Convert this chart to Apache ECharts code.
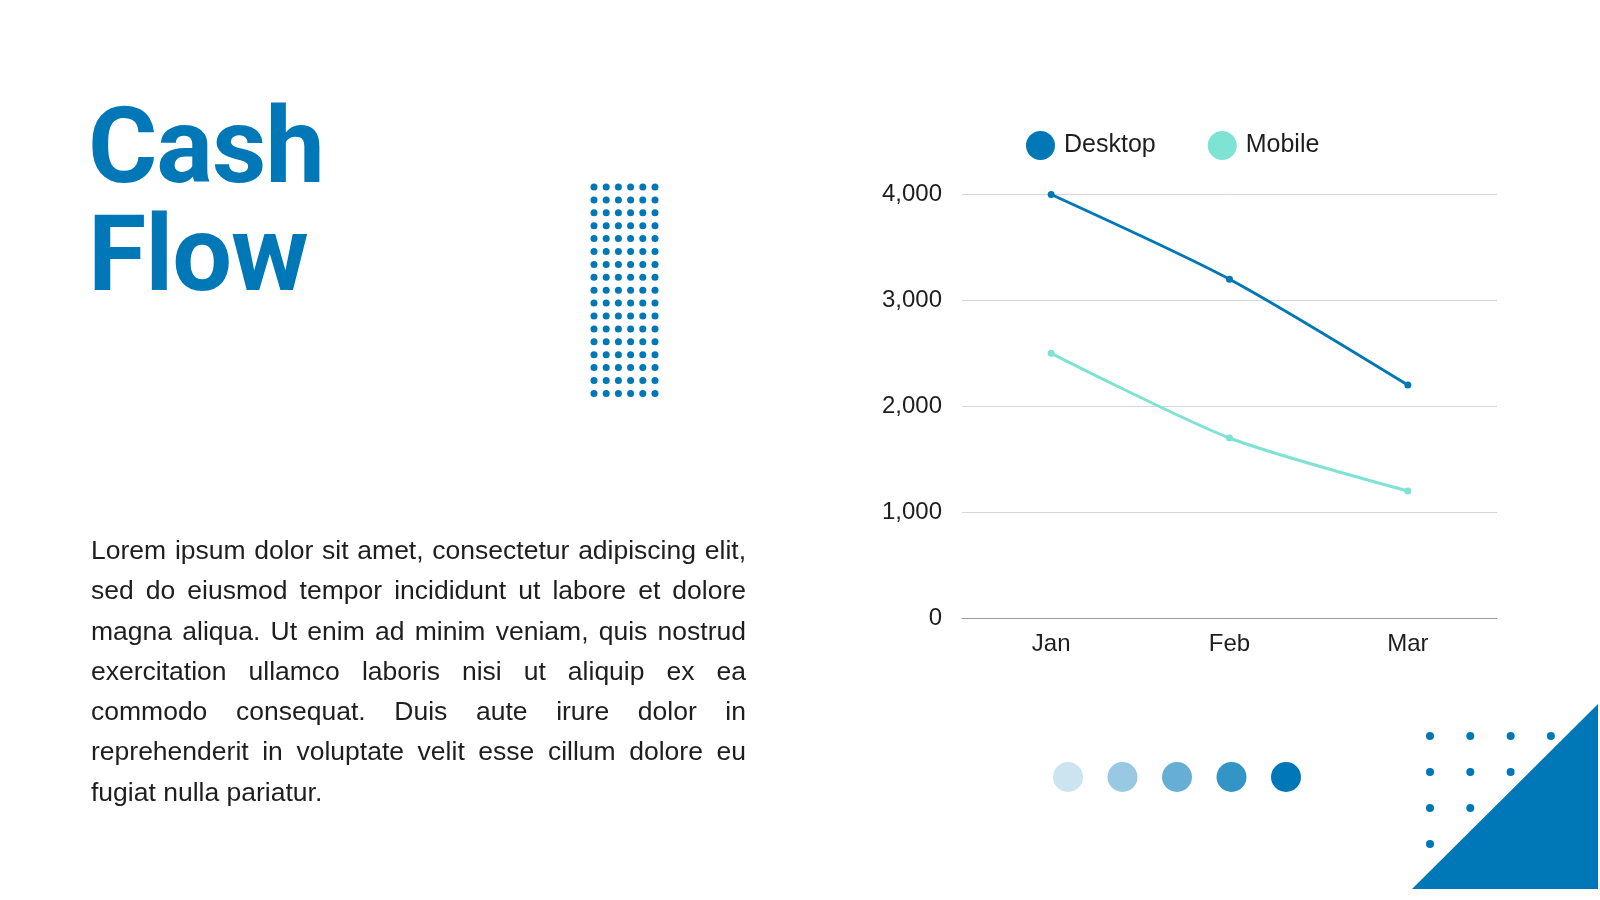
<!DOCTYPE html>
<html>
<head>
<meta charset="utf-8">
<script src="https://cdn.jsdelivr.net/npm/echarts@6/dist/echarts.min.js"></script>
<style>
  html, body { margin: 0; padding: 0; background: #fff; }
  #wrap { position: relative; width: 1600px; height: 900px; overflow: hidden; }
  #chart { position: absolute; left: 0; top: 0; width: 1600px; height: 900px; }
  .title { position: absolute; left: 88px; top: 92px; font-family: Roboto, sans-serif; font-weight: 700;
    font-size: 106px; line-height: 108px; color: #0077b6; letter-spacing: -1px; }
  .body { position: absolute; left: 91px; top: 530px; width: 655px; font-family: "Liberation Sans", Arial, sans-serif;
    font-size: 26.5px; line-height: 40.3px; color: #1e1e1e; text-align: justify; }
</style>
</head>
<body>
<div id="wrap">
  <div id="chart"></div>
  <div class="title">Cash<br>Flow</div>
  <div class="body">Lorem ipsum dolor sit amet, consectetur adipiscing elit, sed do eiusmod tempor incididunt ut labore et dolore magna aliqua. Ut enim ad minim veniam, quis nostrud exercitation ullamco laboris nisi ut aliquip ex ea commodo consequat. Duis aute irure dolor in reprehenderit in voluptate velit esse cillum dolore eu fugiat nulla pariatur.</div>
</div>
<script>
// 数据
const months = ['Jan', 'Feb', 'Mar']
const desktop = [4000, 3200, 2200]
const mobile = [2500, 1700, 1200]
const yTicks = [0, 1000, 2000, 3000, 4000]

const BLUE = '#0077b6'
const MINT = '#7fe3d4'
const shades = ['#cce4f0', '#99c9e2', '#66aed3', '#3394c5', '#0077b6']

// 装饰图形
const deco = []
for (let r = 0; r < 17; r++) {
  for (let c = 0; c < 6; c++) {
    deco.push({ type: 'circle', shape: { cx: 594 + c * 12.2, cy: 187 + r * 12.9, r: 3.5 }, style: { fill: BLUE } })
  }
}
shades.forEach((col, i) => {
  deco.push({ type: 'circle', shape: { cx: 1068 + i * 54.5, cy: 777, r: 15 }, style: { fill: col } })
})
deco.push({ type: 'polygon', shape: { points: [[1412, 889], [1598, 889], [1598, 704]] }, style: { fill: BLUE } })
for (let r = 0; r < 4; r++) {
  for (let c = 0; c < 4 - r; c++) {
    deco.push({ type: 'circle', shape: { cx: 1430 + c * 40.3, cy: 736 + r * 36, r: 4 }, style: { fill: BLUE } })
  }
}

const myChart = echarts.init(document.getElementById('chart'))
myChart.setOption({
  animation: false,
  textStyle: { fontFamily: '"Liberation Sans", Arial, sans-serif' },
  legend: {
    top: 126, left: 1021, itemGap: 52, itemWidth: 29, itemHeight: 29, icon: 'circle',
    textStyle: { fontSize: 25, color: '#1e1e1e', padding: [0, 0, 0, 4] },
    data: ['Desktop', 'Mobile'],
  },
  grid: { left: 962, right: 103, top: 194.5, bottom: 282 },
  xAxis: {
    type: 'category', data: months, boundaryGap: true,
    axisLine: { lineStyle: { color: '#999' } }, axisTick: { show: false },
    axisLabel: { fontSize: 24, color: '#1e1e1e', margin: 14 },
  },
  yAxis: {
    type: 'value', min: yTicks[0], max: yTicks[yTicks.length - 1], interval: 1000,
    axisLine: { show: false }, axisTick: { show: false },
    splitLine: { lineStyle: { color: '#d6d6d6' } },
    axisLabel: { fontSize: 24, color: '#1e1e1e', margin: 20,
      formatter: v => v.toLocaleString('en-US') },
  },
  series: [
    { name: 'Desktop', type: 'line', data: desktop, color: BLUE, smooth: 0.25,
      symbol: 'circle', symbolSize: 7, lineStyle: { width: 3 } },
    { name: 'Mobile', type: 'line', data: mobile, color: MINT, smooth: 0.25,
      symbol: 'circle', symbolSize: 7, lineStyle: { width: 3 } },
  ],
  graphic: deco,
})
</script>
</body>
</html>
